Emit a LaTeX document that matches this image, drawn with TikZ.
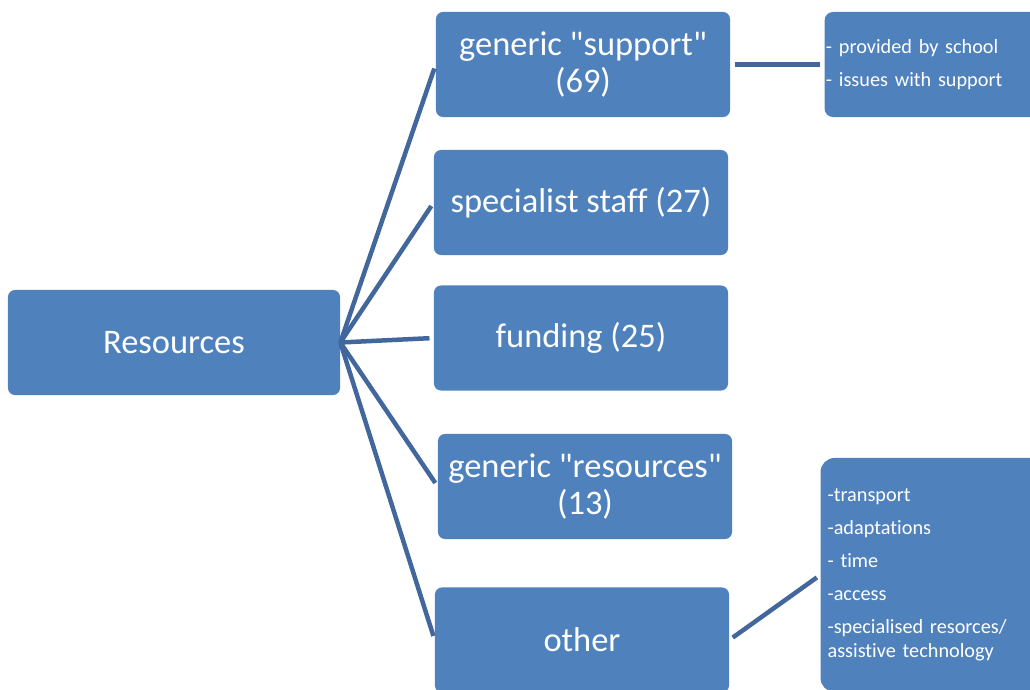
\documentclass[tikz,border=0pt]{standalone}
\usepackage{fontspec}
\setmainfont{Carlito}[Ligatures={TeXOff,NoCommon}]
\definecolor{boxblue}{RGB}{79,129,189}
\definecolor{linkblue}{RGB}{66,103,156}
\begin{document}
\begin{tikzpicture}[x=0.025cm,y=-0.025cm,
	box/.style={fill=boxblue,rounded corners=5pt,text=white,font=\fontsize{24.5}{26}\selectfont,
		minimum width=7.35cm,minimum height=2.625cm,align=center,inner sep=2pt},
	note/.style={fill=boxblue,rounded corners=6pt,text=white,font=\fontsize{14.4}{17}\selectfont,
		align=left,text width=5.9cm,inner xsep=1pt,minimum height=2.625cm},
	link/.style={draw=linkblue,line width=3.2pt,shorten >=3pt}]
	\useasboundingbox (0,0) rectangle (1030,689);
	\clip (0,0) rectangle (1030,689);
	\node[box,minimum width=8.3cm] (res) at (174,342.5) {Resources};
	\node[box] (sup) at (583,64.5) {generic "support"\\(69)};
	\node[box] (staff) at (581,202.5) {specialist staff (27)};
	\node[box] (fund) at (581,338) {funding (25)};
	\node[box] (gres) at (585,486.5) {generic "resources"\\(13)};
	\node[box] (other) at (582,640) {other};
	\node[note] (supnote) at (944,64.5) {- provided by school\\[6.5pt]- issues with support};
	\node[note,rounded corners=10pt,minimum height=5.85cm,inner xsep=5pt,text width=5.62cm] (othernote) at (940,575)
		{-transport\\[6.5pt]-adaptations\\[6.5pt]- time\\[6.5pt]-access\\[6.5pt]-specialised resorces/\\assistive technology};
	\draw[link] (res.east) -- (sup.west);
	\draw[link] (res.east) -- (staff.west);
	\draw[link] (res.east) -- (fund.west);
	\draw[link] (res.east) -- (gres.west);
	\draw[link] (res.east) -- (other.west);
	\draw[link,shorten <=3pt] (sup.east) -- (supnote.west);
	\draw[link,shorten <=3pt] (other.east) -- (othernote.west);
\end{tikzpicture}
\end{document}
